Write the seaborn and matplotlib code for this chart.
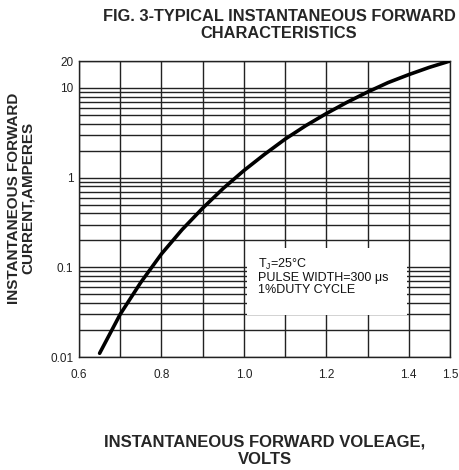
import matplotlib
matplotlib.use("Agg")
import matplotlib.pyplot as plt
import matplotlib.ticker as mticker
from matplotlib.patches import Rectangle
import numpy as np
import pandas as pd
import seaborn as sns

# Data
voltage = [0.65, 0.70, 0.75, 0.80, 0.85, 0.90, 0.95, 1.00, 1.05, 1.10, 1.15, 1.20, 1.25, 1.30, 1.35, 1.40, 1.45, 1.50]
current = [0.011, 0.030, 0.068, 0.141, 0.263, 0.457, 0.76, 1.20, 1.82, 2.69, 3.80, 5.19, 6.92, 9.02, 11.5, 14.1, 17.0, 20.0]

x_tick_vals = [0.6, 0.7, 0.8, 0.9, 1.0, 1.1, 1.2, 1.3, 1.4, 1.5]
x_tick_labels = ["0.6", "", "0.8", "", "1.0", "", "1.2", "", "1.4", "1.5"]
y_tick_vals = [0.01, 0.1, 1, 10, 20]
y_tick_labels = ["0.01", "0.1", "1", "10", "20"]

sns.set_style("white")
plt.rcParams['font.family'] = ['Liberation Sans', 'DejaVu Sans']

fig = plt.figure(figsize=(4.59, 4.70), dpi=100)
ax = fig.add_axes([79/459, 1-357/470, (450-79)/459, (357-61)/470])

df = pd.DataFrame({"V": voltage, "I": current})
sns.lineplot(data=df, x="V", y="I", ax=ax, color="black", linewidth=2.6, zorder=5)

ax.set_yscale("log")
ax.set_xlim(0.6, 1.5)
ax.set_ylim(0.01, 20)

ax.set_xticks(x_tick_vals)
ax.set_xticklabels(x_tick_labels)
ax.set_yticks(y_tick_vals)
ax.set_yticklabels(y_tick_labels)
ax.yaxis.set_minor_locator(mticker.LogLocator(base=10, subs=np.arange(2, 10)))
ax.yaxis.set_minor_formatter(mticker.NullFormatter())

ax.tick_params(axis="both", which="both", length=0, labelsize=8.5, colors="#222222")
ax.tick_params(axis="x", pad=9)
ax.tick_params(axis="y", pad=4)

ax.grid(True, which="major", axis="x", color="#222222", linewidth=1.0)
ax.grid(True, which="both", axis="y", color="#222222", linewidth=1.0)
ax.set_axisbelow(True)
for s in ax.spines.values():
    s.set_color("#222222")
    s.set_linewidth(1.0)

ax.set_xlabel("")
ax.set_ylabel("")

# Annotation box (white patch hiding the grid) and text
ax.add_patch(Rectangle((0.453, 0.142), 0.431, 0.226, transform=ax.transAxes,
                       facecolor="white", edgecolor="none", zorder=4))
ax.text(0.482, 0.338, "T$_\\mathregular{J}$=25\u00b0C\nPULSE WIDTH=300 \u03bcs\n1%DUTY CYCLE",
        transform=ax.transAxes, fontsize=9, va="top", ha="left",
        linespacing=1.0, zorder=6, color="#111111")

fig.text(279/459, 1-25/470, "FIG. 3-TYPICAL INSTANTANEOUS FORWARD\nCHARACTERISTICS",
         ha="center", va="center", fontsize=11.8, fontweight="bold", linespacing=1.15)
fig.text(21/459, 1-198/470, "INSTANTANEOUS FORWARD\nCURRENT,AMPERES",
         ha="center", va="center", rotation=90, fontsize=11, fontweight="bold", linespacing=1.05)
fig.text(265/459, 1-451/470, "INSTANTANEOUS FORWARD VOLEAGE,\nVOLTS",
         ha="center", va="center", fontsize=12, fontweight="bold", linespacing=1.25)

fig.savefig("out.png", dpi=100)
